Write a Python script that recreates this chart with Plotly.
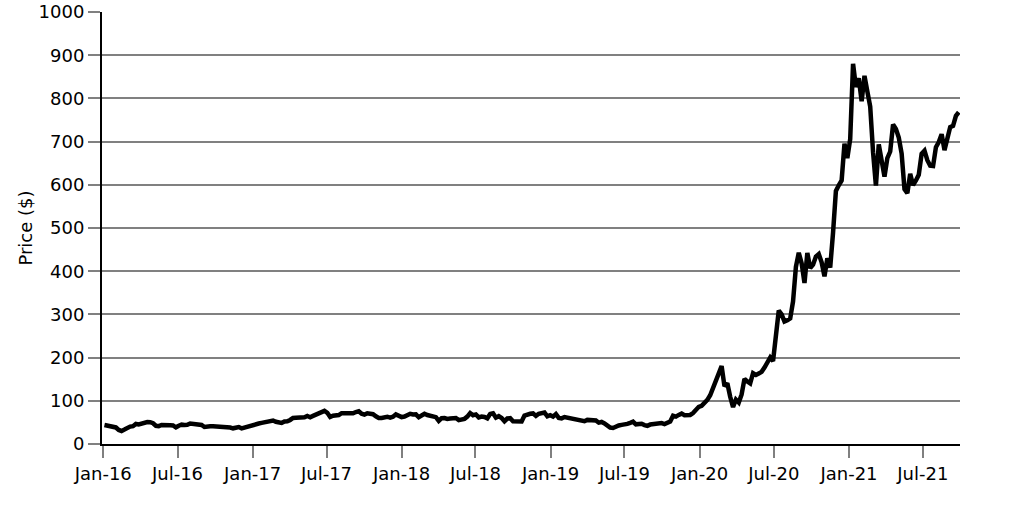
import pandas as pd
import plotly.graph_objects as go

# Weekly closing prices (split-adjusted, $), one list per year
prices_2016 = [44.0, 42.2, 40.9, 40.4, 38.3, 32.5, 30.2, 33.3, 38.2, 40.3, 41.2, 46.5, 45.4,
               47.5, 50.0, 50.8, 50.6, 48.0, 42.2, 41.4, 44.0, 44.6, 43.6, 43.4, 43.0, 38.6,
               42.4, 44.8, 44.0, 44.4, 47.5, 47.0, 45.0, 45.0, 44.0, 39.4, 39.0, 41.0, 41.0,
               40.8, 39.2, 39.2, 40.0, 40.4, 38.0, 36.3, 37.0, 39.2, 36.2, 38.4, 40.4, 41.6,
               42.7]
prices_2017 = [45.9, 47.4, 48.8, 50.3, 51.4, 53.8, 54.4, 51.4, 50.2, 48.6, 52.2, 52.6, 55.7,
               60.4, 60.8, 61.0, 62.8, 61.8, 64.8, 62.0, 65.0, 67.8, 71.4, 74.2, 76.6, 72.2,
               62.6, 65.4, 65.6, 67.0, 71.4, 71.4, 69.4, 69.6, 71.0, 74.0, 75.8, 70.2, 68.2,
               71.2, 71.0, 69.0, 64.0, 60.4, 60.4, 63.0, 63.2, 61.2, 63.0, 68.6, 65.0, 62.2]
prices_2018 = [63.5, 67.4, 70.0, 68.4, 68.6, 62.0, 67.0, 70.0, 67.0, 65.4, 64.2, 62.2, 53.4,
               59.8, 60.0, 58.0, 58.8, 58.8, 60.2, 55.2, 55.6, 58.2, 63.4, 71.6, 66.6, 68.4,
               61.6, 63.6, 62.6, 59.4, 69.6, 71.0, 61.0, 64.4, 60.2, 52.7, 59.0, 59.8, 52.8,
               52.2, 51.6, 52.0, 66.0, 69.2, 70.0, 70.8, 65.0, 70.0, 71.6, 73.0, 64.0, 66.6]
prices_2019 = [63.5, 69.4, 60.4, 59.4, 62.4, 61.0, 61.4, 58.8, 58.8, 57.0, 55.0, 52.8, 55.8,
               54.8, 53.4, 54.6, 49.4, 51.0, 47.8, 42.4, 38.0, 37.0, 41.0, 42.8, 44.2, 44.6,
               46.6, 49.0, 51.6, 45.6, 46.8, 47.0, 43.8, 42.2, 45.0, 45.8, 49.0, 48.0, 48.4,
               46.2, 49.4, 52.2, 65.6, 63.4, 67.4, 70.4, 66.6, 65.8, 67.2, 71.6, 81.0, 86.0]
prices_2020 = [88.6, 95.6, 102.0, 112.8, 130.0, 149.6, 160.0, 180.2, 133.6, 140.7, 109.3, 85.5,
               102.9, 96.0, 114.6, 150.8, 145.0, 140.3, 163.9, 159.8, 163.4, 167.0, 177.0,
               187.1, 200.2, 191.9, 241.7, 308.9, 300.2, 283.4, 286.2, 290.5, 330.1, 409.9,
               442.7, 418.3, 372.7, 442.2, 407.3, 415.1, 434.0, 439.7, 420.6, 388.0, 429.9,
               408.5, 489.6, 585.8, 599.0, 610.0, 695.0, 661.8, 705.7]
prices_2021 = [880.0, 826.2, 846.6, 793.5, 852.2, 816.1, 781.3, 675.5, 598.0, 693.7, 654.9,
               618.7, 661.8, 677.0, 739.8, 729.4, 709.4, 672.4, 589.7, 580.9, 625.2, 599.1,
               609.9, 623.3, 671.9, 678.9, 657.0, 644.2, 643.4, 687.2, 699.1, 717.2, 680.3,
               711.9, 733.6, 736.3, 759.5, 768.0]

# first week of each year's list
year_starts = {"2016-01-04": prices_2016, "2017-01-09": prices_2017, "2018-01-08": prices_2018,
               "2019-01-07": prices_2019, "2020-01-06": prices_2020, "2021-01-11": prices_2021}

dates, prices = [], []
for start, vals in year_starts.items():
    dates.extend(pd.date_range(start, periods=len(vals), freq="7D"))
    prices.extend(vals)

tick_dates = pd.date_range("2016-01-01", "2021-07-01", freq="6MS")
tick_labels = [d.strftime("%b-%y") for d in tick_dates]

font = dict(family="DejaVu Sans", size=18, color="black")

fig = go.Figure()
fig.add_trace(go.Scatter(x=dates, y=prices, mode="lines",
                         line=dict(color="black", width=4.5), showlegend=False))

fig.update_layout(
    width=1031, height=516,
    margin=dict(l=102, r=71, t=12, b=72),
    paper_bgcolor="white", plot_bgcolor="white",
    font=font,
)
fig.update_xaxes(
    type="date", range=["2015-12-29", "2021-09-30"],
    tickvals=tick_dates, ticktext=tick_labels,
    showgrid=False, zeroline=False, automargin=False,
    showline=True, linecolor="black", linewidth=2,
    ticks="outside", ticklen=12, tickwidth=2, tickcolor="#808080",
    tickfont=font,
)
fig.update_yaxes(
    range=[0, 1000], dtick=100, tick0=0,
    showgrid=True, gridcolor="#808080", gridwidth=2,
    zeroline=False, automargin=False,
    showline=True, linecolor="black", linewidth=2,
    ticks="outside", ticklen=12, tickwidth=2, tickcolor="#808080",
    tickfont=font,
    title=dict(text="Price ($)", font=font, standoff=1),
)

fig.write_html("out.html", config={"displayModeBar": False},
               post_script="document.body.style.margin = '0';")
